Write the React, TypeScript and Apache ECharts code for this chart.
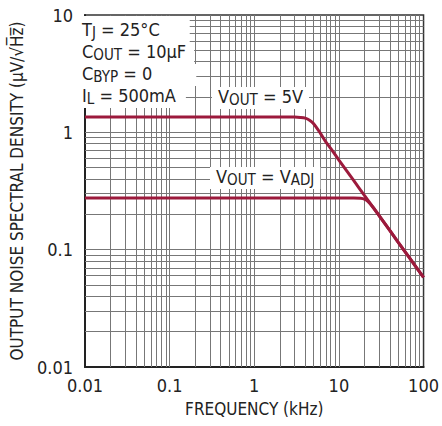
import React, { useEffect, useRef } from 'react';
import * as echarts from 'echarts';

// Output noise spectral density vs frequency (log-log)
const freq5V = [0.01, 0.1, 1, 2, 3, 3.5, 4, 4.5, 5, 6, 7, 8, 10, 15, 20, 30, 50, 70, 100];
const noise5V = [1.35, 1.35, 1.35, 1.35, 1.35, 1.34, 1.32, 1.27, 1.19, 0.99, 0.83, 0.73, 0.58, 0.387, 0.29, 0.194, 0.116, 0.083, 0.058];

const freqAdj = [0.01, 0.1, 1, 10, 15, 18, 20, 22, 25, 30, 50, 70, 100];
const noiseAdj = [0.276, 0.276, 0.276, 0.276, 0.276, 0.274, 0.27, 0.258, 0.232, 0.194, 0.116, 0.083, 0.058];

const xTickLabels = ['0.01', '0.1', '1', '10', '100'];
const yTickLabels = ['0.01', '0.1', '1', '10'];
const xDecades = [0.01, 0.1, 1, 10];
const yDecades = [0.01, 0.1, 1];
const minorSteps = [2, 3, 4, 5, 6, 7, 8, 9];

const FONT = "'DejaVu Sans Condensed', 'Liberation Sans', sans-serif";
const CURVE = '#9c1a3c';
const GRID = '#777777';

export default function App() {
  const ref = useRef<HTMLDivElement>(null);

  useEffect(() => {
    if (!ref.current) return;
    document.body.style.margin = '0';
    const chart = echarts.init(ref.current, undefined, { renderer: 'svg' });

    const xLines: number[] = [];
    xDecades.forEach((d) => minorSteps.forEach((m) => xLines.push(+(d * m).toPrecision(3))));
    [0.1, 1, 10].forEach((v) => xLines.push(v));
    const yLines: number[] = [];
    yDecades.forEach((d) => minorSteps.forEach((m) => yLines.push(+(d * m).toPrecision(3))));
    [0.1, 1].forEach((v) => yLines.push(v));

    const gridMarks = [
      ...xLines.map((v) => ({ xAxis: v })),
      ...yLines.map((v) => ({ yAxis: v })),
    ];

    const xLabelFor = (v: number) => xTickLabels[Math.round(Math.log10(v)) + 2] ?? '';
    const yLabelFor = (v: number) => yTickLabels[Math.round(Math.log10(v)) + 2] ?? '';

    const subRich = (main: number, sub: number) => ({
      a: { fontSize: main, fontFamily: FONT, lineHeight: 22, verticalAlign: 'top', fill: '#222' },
      b: { fontSize: sub, fontFamily: FONT, lineHeight: 22, verticalAlign: 'top', padding: [5, 0, 0, 0], fill: '#222' },
    });

    const textBox = (text: string, left: number, top: number, padRight = 6) => ({
      type: 'text',
      left,
      top,
      z: 100,
      style: {
        text,
        rich: subRich(18, 15),
        backgroundColor: '#fff',
        padding: [0, padRight, 0, 6],
      },
    });

    chart.setOption({
      animation: false,
      grid: { left: 75, right: 16, top: 15, bottom: 59, show: true, borderColor: '#333', borderWidth: 1.5 },
      xAxis: {
        type: 'log',
        logBase: 10,
        min: 0.01,
        max: 100,
        name: 'FREQUENCY (kHz)',
        nameLocation: 'middle',
        nameGap: 33,
        nameTextStyle: { fontFamily: FONT, fontSize: 17, color: '#222' },
        axisLine: { show: true, lineStyle: { color: '#222', width: 2 } },
        axisTick: { show: false },
        axisLabel: { fontFamily: FONT, fontSize: 18, color: '#222', margin: 9, formatter: xLabelFor },
        splitLine: { show: false },
      },
      yAxis: {
        type: 'log',
        logBase: 10,
        min: 0.01,
        max: 10,
        name: 'OUTPUT NOISE SPECTRAL DENSITY (µV/√H\u0305z\u0305)',
        nameLocation: 'middle',
        nameGap: 60,
        nameTextStyle: { fontFamily: FONT, fontSize: 17, color: '#222' },
        axisLine: { show: true, lineStyle: { color: '#222', width: 2 } },
        axisTick: { show: false },
        axisLabel: { fontFamily: FONT, fontSize: 18, color: '#222', margin: 12, formatter: yLabelFor },
        splitLine: { show: false },
      },
      series: [
        {
          type: 'line',
          data: freqAdj.map((f, i) => [f, noiseAdj[i]]),
          showSymbol: false,
          silent: true,
          z: 1,
          lineStyle: { width: 0, opacity: 0 },
          markLine: {
            silent: true,
            symbol: ['none', 'none'],
            label: { show: false },
            lineStyle: { color: GRID, width: 1, type: 'solid' },
            emphasis: { disabled: true },
            data: gridMarks,
          },
        },
        {
          name: 'VOUT = 5V',
          type: 'line',
          data: freq5V.map((f, i) => [f, noise5V[i]]),
          showSymbol: false,
          smooth: 0.3,
          z: 10,
          lineStyle: { color: CURVE, width: 3 },
        },
        {
          name: 'VOUT = VADJ',
          type: 'line',
          data: freqAdj.map((f, i) => [f, noiseAdj[i]]),
          showSymbol: false,
          smooth: 0.3,
          z: 10,
          lineStyle: { color: CURVE, width: 3 },
        },
      ],
      graphic: [
        {
          type: 'rect',
          left: 76,
          top: 16,
          z: 99,
          shape: { width: 102, height: 72 },
          style: { fill: '#fff' },
        },
        textBox('{a|T}{b|J}{a| = 25°C}', 76, 20, 30),
        textBox('{a|C}{b|OUT}{a| = 10µF}', 76, 42, 8),
        textBox('{a|C}{b|BYP}{a| = 0}', 76, 64, 44),
        textBox('{a|I}{b|L}{a| = 500mA}', 76, 86, 10),
        textBox('{a|V}{b|OUT}{a| = 5V}', 212, 87, 6),
        textBox('{a|V}{b|OUT}{a| = V}{b|ADJ}', 210, 167, 6),
      ],
    });

    return () => chart.dispose();
  }, []);

  return <div ref={ref} style={{ width: 442, height: 426 }} />;
}
